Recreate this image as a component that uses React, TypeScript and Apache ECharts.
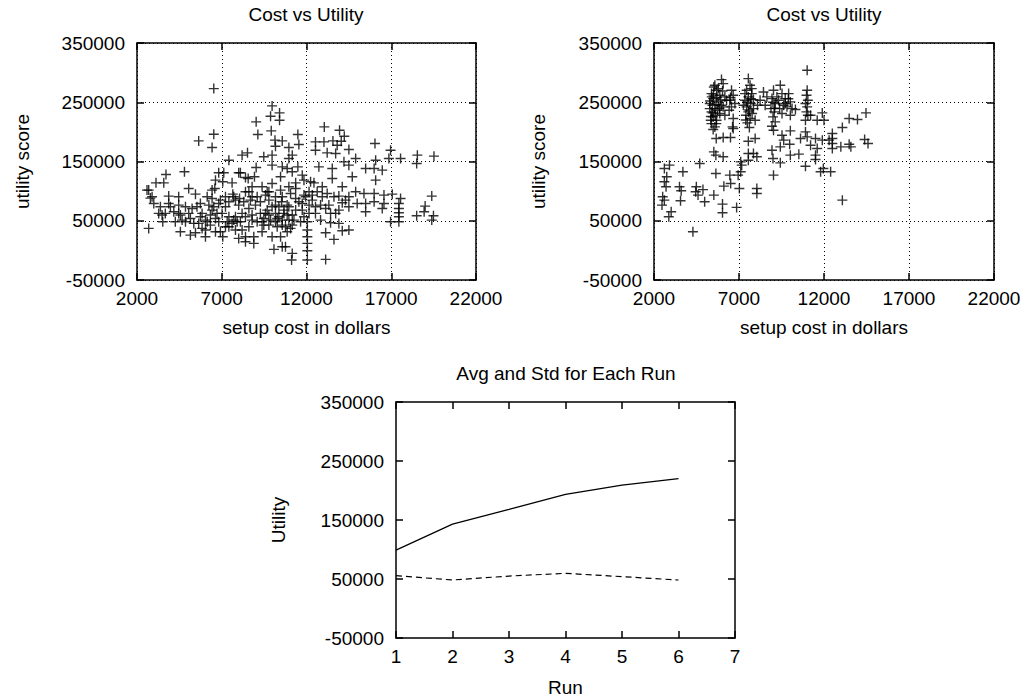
import { useEffect, useRef } from "react";
import * as echarts from "echarts";

const FONT = "'Liberation Sans', Arial, Helvetica, sans-serif";
const FS = 19;

const costMin = 2000;
const costMax = 22000;
const costStep = 5000;
const utilMin = -50000;
const utilMax = 350000;
const utilStep = 100000;
const runMin = 1;
const runMax = 7;

const runs = [1, 2, 3, 4, 5, 6];
const avgUtility = [99000, 143000, 168000, 193500, 209000, 220000];
const stdUtility = [55600, 48300, 55000, 59600, 54000, 48300];

// [setup cost, utility score] — first run (left)
const firstRunPoints: [number, number][] = [
  [6530, 273000], [9970, 243800], [10410, 232000], [9880, 226400], [10410, 219700],
  [9030, 216900], [9130, 195500], [6530, 196100], [5640, 184800], [6430, 173600],
  [9920, 201700], [10140, 186000], [10570, 184800], [10170, 175800], [10960, 173600],
  [11490, 195500], [11550, 178700], [13050, 208400], [13950, 202800], [14230, 192700],
  [12530, 183100], [13030, 183100], [13560, 184800], [14050, 184300], [16040, 180300],
  [12530, 169100], [13220, 164600], [13720, 163500], [14500, 170200], [13810, 177500],
  [16960, 169100], [16860, 155100], [17550, 155100], [18540, 160700], [18500, 146600],
  [19520, 159000], [8520, 164600], [8200, 160700], [7420, 152200], [9480, 157900],
  [9970, 160700], [10960, 155100], [11160, 160700], [10570, 141000], [9970, 143800],
  [11490, 141000], [11160, 132600], [9030, 139900], [8930, 124200], [8000, 130900],
  [8400, 123000], [6820, 130900], [7120, 130900], [4800, 132600], [3710, 128100],
  [3580, 114000], [3120, 114000], [2690, 101700], [2790, 88200], [2690, 37100],
  [3480, 59600], [3520, 48300], [3870, 91600], [4460, 90400], [5050, 104500],
  [5450, 94900], [4860, 73600], [4460, 62400], [3970, 73600], [3380, 73600],
  [4560, 31500], [5150, 25800], [5450, 29800], [6040, 34300], [6040, 23000],
  [6630, 31500], [7060, 23000], [6630, 118500], [6590, 104500], [7060, 115700],
  [7610, 114000], [7650, 94900], [8050, 87600], [8400, 98900], [8790, 90400],
  [8100, 130900], [8560, 121300], [9090, 90400], [9580, 93300], [9780, 84800],
  [10170, 90400], [10570, 90400], [10960, 107300], [11360, 114000], [11850, 118500],
  [12440, 114000], [12930, 107300], [13520, 121300], [14110, 107300], [14700, 124200],
  [15490, 138200], [15990, 138200], [16080, 118500], [15990, 96100], [16570, 93300],
  [17060, 94900], [17550, 87600], [17450, 79200], [17450, 70800], [17450, 63500],
  [17450, 56700], [17450, 48300], [19390, 91600], [19000, 74700], [18940, 65200],
  [19490, 58400], [19390, 51100], [18500, 58400], [16960, 48300], [16470, 70800],
  [16570, 79200], [15990, 82000], [15490, 65200], [14990, 79200], [14500, 90400],
  [14500, 73600], [13910, 91600], [13910, 68000], [13320, 76400], [12830, 76400],
  [12340, 84800], [12150, 62400], [11750, 68000], [12050, 48300], [12050, 34300],
  [12050, 23000], [12050, 11800], [12050, -600], [12050, -16300], [11120, -16300],
  [11160, -5100], [13130, -15200], [13620, 18500], [13130, 29800], [13420, 46600],
  [13910, 45500], [14500, 34300], [14110, 33200], [10570, 6200], [10080, 1700],
  [9970, 23000], [9380, 31500], [8890, 11800], [8400, 14600], [8000, 20200],
  [8400, 23000], [7810, 34300], [8890, 23000], [7610, 45500], [7910, 48300],
  [7420, 56700], [7220, 39900], [6820, 48300], [6330, 59600], [6140, 48300],
  [5840, 62400], [5640, 45500], [5540, 73600], [6240, 76400], [6430, 87600],
  [6920, 84800], [7220, 73600], [7710, 90400], [8000, 76400], [8600, 70800],
  [8790, 59600], [9090, 48300], [9480, 53900], [9680, 68000], [10170, 62400],
  [10370, 73600], [10670, 62400], [10960, 51100], [11160, 42700], [10570, 42700],
  [10270, 39900], [10860, 31500], [10470, 23000], [11360, 68000], [11550, 82000],
  [11950, 90400], [12530, 73600], [12830, 51100], [12530, 62400], [13720, 62400],
  [10760, 6200], [11360, 104500], [8790, 107300], [9380, 107300], [9680, 98900],
  [9970, 112900], [10470, 124200], [10860, 138200], [11750, 127000], [12240, 115700],
  [12730, 141000], [13520, 138200], [14210, 149400], [14900, 155100], [14500, 143800],
  [16080, 152200], [16470, 135400], [14900, 98900], [15390, 96100], [15490, 79200],
  [6430, 101700], [6430, 68000], [6720, 62400], [5050, 62400], [4660, 51100],
  [3870, 79200], [2890, 90400], [2590, 101700], [3280, 62400], [3670, 62400],
  [4260, 48300], [5350, 45500], [5840, 37100], [6330, 42700], [6920, 31500],
  [7420, 39900], [8200, 34300], [8600, 39900], [9480, 42700], [9780, 42700],
  [11160, 59600], [11750, 79200], [10960, 73600], [10530, 82000], [10570, 51100],
  [10860, 59600], [11060, 37100], [10270, 53900], [12150, 76400], [13130, 70800],
  [13420, 62400], [12150, 98900], [12630, 98900], [13220, 96100], [13620, 90400],
  [14110, 80300], [14300, 84800], [7810, 84800], [8200, 62400], [7810, 56700],
  [7020, 62400], [7220, 90400], [8990, 76400], [9280, 62400], [9880, 51100],
  [9970, 73600], [8600, 98900], [10370, 56700], [10670, 68000], [11260, 51100],
  [11650, 48300], [11850, 56700], [10170, 48300], [10760, 39900], [9580, 62400],
  [9780, 59600], [9380, 48300], [8790, 51100], [8400, 56700], [8100, 48300],
  [7710, 51100], [7320, 48300], [6630, 53900], [6040, 51100], [5740, 56700],
  [5150, 53900], [4860, 48300], [4560, 59600], [4170, 65200], [6530, 73600],
  [6820, 79200], [7420, 82000], [8300, 82000], [8690, 84800], [9280, 82000],
  [10170, 76400], [10860, 76400], [11360, 87600], [11850, 93300], [12340, 93300],
  [12930, 90400], [10470, 101700], [11060, 96100], [9780, 98900], [6140, 90400],
  [5740, 79200], [5250, 70800], [2990, 79200], [4460, 76400],
];

// [setup cost, utility score] — later run (right)
const lastRunPoints: [number, number][] = [
  [5970, 288200], [6070, 281500], [5580, 278700], [5680, 270200], [5380, 264600],
  [5870, 261800], [6170, 259000], [5480, 256200], [5780, 250600], [5280, 247800],
  [5970, 245000], [5580, 239300], [5380, 233700], [5870, 230900], [5480, 225300],
  [5680, 219700], [5380, 214000], [5580, 208400], [5480, 203900], [6070, 242200],
  [6170, 228100], [6270, 253400], [5280, 239300], [5780, 273000], [5520, 275800],
  [5440, 245000], [5740, 236500], [5340, 219700], [5660, 214000], [5910, 254000],
  [5400, 259000], [6030, 269100], [5600, 228000], [5300, 252000], [5500, 262000],
  [5700, 258000], [5850, 240000], [5450, 232000], [5650, 246000], [5350, 226000],
  [6560, 270200], [6660, 261800], [6460, 253400], [6760, 247800], [6560, 242200],
  [6420, 236500], [6660, 222500], [6500, 257900], [6620, 208400],
  [7550, 289900], [7650, 278700], [7450, 270200], [7750, 264600], [7550, 259000],
  [7350, 253400], [7690, 247800], [7450, 242200], [7850, 239300], [7550, 233700],
  [7410, 228100], [7650, 222500], [7490, 215200], [7610, 207300], [7850, 254500],
  [7950, 219700], [7350, 264600], [7750, 273000], [7260, 245000], [7770, 230900],
  [7500, 250000], [7600, 237000], [7400, 220000], [7700, 256000],
  [8440, 267400], [8240, 253400], [8540, 245000], [8090, 245000], [8640, 259000],
  [9030, 270200], [8940, 256200], [9130, 247800], [8880, 239300], [9070, 233700],
  [9000, 225300], [9130, 216900], [8940, 209600], [9030, 202800], [9230, 259000],
  [9000, 250000], [9100, 240000],
  [9430, 278700], [9530, 264600], [9330, 253400], [9720, 256200], [9630, 245000],
  [9390, 239300], [9920, 264600], [10020, 250600], [9820, 242200], [10120, 239300],
  [9530, 230900], [10020, 228100], [10320, 237700], [9720, 247800], [9900, 256000],
  [11010, 270200], [10970, 261800], [11050, 253400], [10910, 247800], [11010, 242200],
  [10970, 233700], [11050, 228100], [10910, 219700], [11010, 303900],
  [11210, 228100], [11900, 232000], [12000, 219700], [11600, 219700], [13080, 207300],
  [13480, 222500], [13970, 220800], [14470, 232000], [12490, 197200], [12490, 188800],
  [12490, 180300], [12490, 171900], [11900, 186000], [12300, 186000], [12990, 174700],
  [13480, 179200], [13580, 174700], [14390, 187100], [14590, 180300], [11500, 188800],
  [11010, 191600], [10910, 200000], [10620, 188800], [11210, 177500], [11600, 171900],
  [11500, 160700], [11500, 153400], [10910, 142100], [11800, 132600], [12390, 132600],
  [11960, 138200], [13080, 84800], [10520, 162400], [10020, 160700], [9980, 179200],
  [10020, 201700], [9530, 194400], [9430, 174700], [9630, 186000], [8940, 169100],
  [9000, 155100], [9430, 147700], [9030, 127000], [8050, 157900], [7850, 163500],
  [7550, 163500], [7550, 152200], [7100, 149400], [7160, 143800], [7950, 188800],
  [7550, 184300], [6500, 190400], [6660, 205600], [6070, 190400], [5660, 188800],
  [5520, 166300], [5640, 160700], [6070, 157900], [5640, 129800], [6460, 127000],
  [6950, 127000], [7100, 132600], [6510, 112900], [6110, 108400], [7020, 104500],
  [8050, 104500], [8050, 96100], [6860, 72500], [6030, 78100], [6030, 63500],
  [5520, 93300], [4980, 82000], [4590, 93300], [4490, 107300], [4880, 102600],
  [4450, 98900], [3500, 107300], [3600, 100600], [3560, 83700], [3700, 132600],
  [4690, 146600], [2910, 143800], [2610, 138200], [2750, 124200], [2610, 115700],
  [2710, 107300], [2510, 90400], [2610, 84800], [2470, 76400], [3010, 65200],
  [2870, 56700], [4290, 31500],
];

function plotAxes(
  gridIndex: number,
  min: number,
  max: number,
  interval: number,
  isX: boolean,
  name: string,
  nameGap: number,
  grid: boolean
) {
  const common = {
    type: "value",
    gridIndex,
    min,
    max,
    interval,
    axisLine: { show: true, onZero: false, lineStyle: { color: "#000", width: 1.5 } },
    axisTick: { show: true, inside: true, length: 7, lineStyle: { color: "#000", width: 1.5 } },
    splitLine: { show: false },
  };
  const main = {
    ...common,
    position: isX ? "bottom" : "left",
    name,
    nameLocation: "middle",
    nameGap,
    nameRotate: isX ? 0 : 90,
    nameTextStyle: { color: "#000", fontSize: FS, fontFamily: FONT },
    axisLabel: {
      show: true,
      color: "#000",
      fontSize: FS,
      fontFamily: FONT,
      margin: isX ? 9 : 12,
      formatter: (v: number) => String(v),
    },
    splitLine: {
      show: grid,
      lineStyle: { color: "#000", width: 1, type: [1, 3] },
    },
  };
  const mirror = {
    ...common,
    position: isX ? "top" : "right",
    axisLabel: { show: false },
  };
  return [main, mirror];
}

export default function App() {
  const ref = useRef<HTMLDivElement>(null);
  useEffect(() => {
    if (!ref.current) return;
    const chart = echarts.init(ref.current, null, { renderer: "svg" });
    const plus = "path://M0,5L10,5M5,0L5,10";
    const scatterStyle = {
      color: "rgba(0,0,0,0)",
      borderColor: "#000",
      borderWidth: 1.4,
    };
    const xAxis = [
      ...plotAxes(0, costMin, costMax, costStep, true, "setup cost in dollars", 38, true),
      ...plotAxes(1, costMin, costMax, costStep, true, "setup cost in dollars", 38, true),
      ...plotAxes(2, runMin, runMax, 1, true, "Run", 40, false),
    ];
    const yAxis = [
      ...plotAxes(0, utilMin, utilMax, utilStep, false, "utility score", 105, true),
      ...plotAxes(1, utilMin, utilMax, utilStep, false, "utility score", 106, true),
      ...plotAxes(2, utilMin, utilMax, utilStep, false, "Utility", 108, false),
    ];
    const option = {
      animation: false,
      backgroundColor: "#fff",
      textStyle: { fontFamily: FONT },
      grid: [
        { left: 137, top: 43, width: 339, height: 237 },
        { left: 654, top: 43, width: 340, height: 237 },
        { left: 396, top: 402, width: 339, height: 236 },
      ],
      xAxis,
      yAxis,
      graphic: [
        {
          type: "text",
          x: 306,
          y: 14,
          style: { text: "Cost vs Utility", textAlign: "center", textVerticalAlign: "middle", font: `${FS}px ${FONT}`, fill: "#000" },
        },
        {
          type: "text",
          x: 824,
          y: 14,
          style: { text: "Cost vs Utility", textAlign: "center", textVerticalAlign: "middle", font: `${FS}px ${FONT}`, fill: "#000" },
        },
        {
          type: "text",
          x: 566,
          y: 373,
          style: { text: "Avg and Std for Each Run", textAlign: "center", textVerticalAlign: "middle", font: `${FS}px ${FONT}`, fill: "#000" },
        },
      ],
      series: [
        {
          type: "scatter",
          xAxisIndex: 0,
          yAxisIndex: 0,
          data: firstRunPoints,
          symbol: plus,
          symbolSize: 10,
          itemStyle: scatterStyle,
        },
        {
          type: "scatter",
          xAxisIndex: 2,
          yAxisIndex: 2,
          data: lastRunPoints,
          symbol: plus,
          symbolSize: 10,
          itemStyle: scatterStyle,
        },
        {
          type: "line",
          xAxisIndex: 4,
          yAxisIndex: 4,
          data: runs.map((r, i) => [r, avgUtility[i]]),
          symbol: "none",
          lineStyle: { color: "#000", width: 1.2, type: "solid" },
        },
        {
          type: "line",
          xAxisIndex: 4,
          yAxisIndex: 4,
          data: runs.map((r, i) => [r, stdUtility[i]]),
          symbol: "none",
          lineStyle: { color: "#000", width: 1.2, type: [6, 4] },
        },
      ],
    };
    chart.setOption(option as any);
    return () => chart.dispose();
  }, []);
  return (
    <div
      ref={ref}
      style={{ position: "fixed", left: 0, top: 0, width: 1034, height: 700, background: "#fff" }}
    />
  );
}
